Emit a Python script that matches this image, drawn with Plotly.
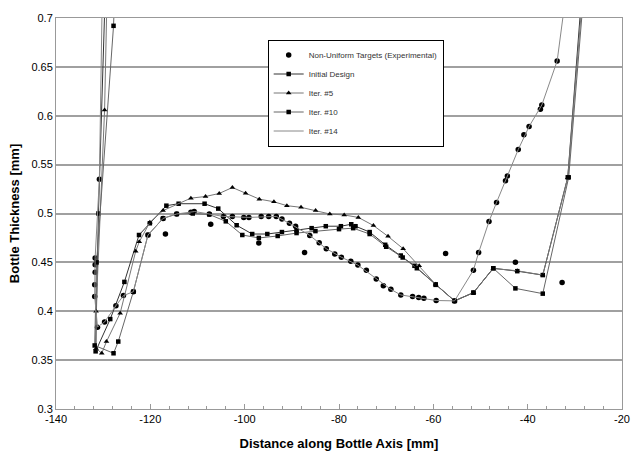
import plotly.graph_objects as go

# ---------------- data ----------------
exp_x = [-130.8, -131.7, -131.7, -131.7, -131.8, -131.8, -131.2, -129.7, -127.3, -125.7,
         -123.6, -120.5, -117.3, -114.4, -111.4, -110.7, -107.5, -104.5, -102.6, -100.2,
         -99.1, -96.5, -94.9, -93.3, -92.1, -90.5, -89.2, -86.2, -84.2, -82.7,
         -80.9, -79.5, -77.5, -76.0, -74.2, -72.1, -70.6, -69.0, -66.9, -64.4,
         -63.1, -62.0, -59.4, -55.5, -51.5, -50.4, -48.2, -46.6, -44.7, -44.3,
         -42.0, -40.8, -39.7, -37.3, -37.0, -33.75,
         -116.8, -107.2, -97.0, -87.3, -57.4, -42.6, -32.7]
exp_y = [0.535, 0.4546, 0.4475, 0.440, 0.4272, 0.415, 0.3836, 0.389, 0.4056, 0.416,
         0.42, 0.478, 0.495, 0.4995, 0.5012, 0.502, 0.4995, 0.497, 0.497, 0.496,
         0.496, 0.497, 0.497, 0.497, 0.4944, 0.49, 0.487, 0.4776, 0.470, 0.464,
         0.4586, 0.4553, 0.4512, 0.4472, 0.442, 0.433, 0.4262, 0.4224, 0.4167, 0.415,
         0.414, 0.4133, 0.411, 0.4106, 0.442, 0.46, 0.4918, 0.5113, 0.5334, 0.5384,
         0.5654, 0.5806, 0.589, 0.6067, 0.611, 0.656,
         0.479, 0.489, 0.4698, 0.46, 0.459, 0.45, 0.4295]

init_x = [-129.6, -131.0, -131.6, -128.5, -125.5, -122.4, -120.1, -116.6, -114.0, -108.5,
          -105.6, -101.7, -98.4, -95.2, -92.1, -89.0, -85.8, -82.8, -79.6, -77.4,
          -76.5, -73.5, -70.2, -66.9, -64.0, -59.5, -55.5, -51.5, -47.3, -42.2,
          -36.8, -31.5, -28.6]
init_y = [0.72, 0.50, 0.359, 0.392, 0.43, 0.478, 0.49, 0.508, 0.510, 0.510,
          0.505, 0.488, 0.479, 0.479, 0.481, 0.483, 0.485, 0.487, 0.487, 0.489,
          0.487, 0.481, 0.468, 0.457, 0.4465, 0.4275, 0.4106, 0.419, 0.444, 0.441,
          0.437, 0.537, 0.72]

it5_x = [-129.2, -129.7, -131.5, -131.5, -130.3, -129.3, -126.4, -123.1, -122.35, -120.1,
         -117.3, -111.4, -108.3, -105.4, -102.6, -99.8, -96.9, -93.8, -91.05, -88.05,
         -84.96, -81.95, -78.9, -75.9, -72.7, -69.6, -66.4, -63.0, -59.5, -55.5,
         -51.5, -47.3, -42.2, -36.8, -31.5, -28.4]
it5_y = [0.72, 0.606, 0.40, 0.362, 0.357, 0.369, 0.398, 0.4614, 0.471, 0.491,
         0.503, 0.5157, 0.5174, 0.5205, 0.5266, 0.5208, 0.5147, 0.512, 0.508, 0.5063,
         0.503, 0.4995, 0.4985, 0.496, 0.4877, 0.4766, 0.464, 0.4465, 0.4275, 0.4106,
         0.419, 0.4437, 0.4414, 0.437, 0.5367, 0.72]

it10_x = [-127.6, -127.8, -131.4, -131.8, -127.8, -126.8, -123.6, -120.5, -117.3, -114.4,
          -111.0, -107.5, -104.0, -100.5, -97.0, -93.0, -89.0, -85.0, -80.0, -77.0,
          -73.5, -70.0, -66.5, -63.5, -59.5, -55.5, -51.5, -47.3, -42.6, -36.8,
          -31.3, -28.2]
it10_y = [0.72, 0.692, 0.45, 0.365, 0.357, 0.369, 0.42, 0.478, 0.495, 0.4995,
          0.500, 0.499, 0.492, 0.478, 0.475, 0.477, 0.480, 0.482, 0.484, 0.485,
          0.479, 0.466, 0.455, 0.444, 0.427, 0.4106, 0.419, 0.444, 0.4234, 0.418,
          0.537, 0.72]

it14_x = [-130.2, -130.8, -131.7, -131.8, -131.2, -129.7, -127.3, -125.7, -123.6, -120.5,
          -117.3, -114.4, -110.6, -104.5, -99.1, -93.3, -90.5, -86.2, -82.7, -79.5,
          -76.0, -72.1, -69.0, -66.9, -64.4, -62.0, -59.4, -55.5, -51.5, -50.4,
          -48.2, -46.6, -44.3, -42.0, -39.7, -37.0, -33.75, -32.0]
it14_y = [0.72, 0.535, 0.455, 0.415, 0.384, 0.389, 0.4056, 0.416, 0.42, 0.478,
          0.495, 0.4995, 0.502, 0.497, 0.496, 0.497, 0.49, 0.4776, 0.464, 0.4553,
          0.4472, 0.433, 0.4224, 0.4167, 0.415, 0.4133, 0.411, 0.4106, 0.442, 0.46,
          0.4918, 0.5113, 0.5384, 0.5654, 0.589, 0.611, 0.656, 0.72]

x_ticks = [-140, -120, -100, -80, -60, -40, -20]
x_tick_text = ["-140", "-120", "-100", "-80", "-60", "-40", "-20"]
y_ticks = [0.3, 0.35, 0.4, 0.45, 0.5, 0.55, 0.6, 0.65, 0.7]
y_tick_text = ["0.3", "0.35", "0.4", "0.45", "0.5", "0.55", "0.6", "0.65", "0.7"]

# ---------------- figure ----------------
fig = go.Figure()

fig.add_trace(go.Scatter(x=exp_x, y=exp_y, mode="markers",
                         name="Non-Uniform Targets (Experimental)",
                         marker=dict(symbol="circle", size=5.5, color="black")))
fig.add_trace(go.Scatter(x=init_x, y=init_y, mode="lines+markers", name="Initial Design",
                         line=dict(color="#333333", width=1),
                         marker=dict(symbol="square", size=4.5, color="black")))
fig.add_trace(go.Scatter(x=it5_x, y=it5_y, mode="lines+markers", name="Iter. #5",
                         line=dict(color="#777777", width=1),
                         marker=dict(symbol="triangle-up", size=5, color="black")))
fig.add_trace(go.Scatter(x=it10_x, y=it10_y, mode="lines+markers", name="Iter. #10",
                         line=dict(color="#666666", width=1),
                         marker=dict(symbol="square", size=4.5, color="black")))
fig.add_trace(go.Scatter(x=it14_x, y=it14_y, mode="lines", name="Iter. #14",
                         line=dict(color="#888888", width=1)))

fig.update_layout(
    width=642, height=463,
    margin=dict(l=56, r=14, t=13, b=54),
    paper_bgcolor="white", plot_bgcolor="white",
    font=dict(family="Liberation Sans, Arial, sans-serif", color="black", size=11),
    showlegend=True,
    legend=dict(x=0.374, y=0.945, xanchor="left", yanchor="top",
                bgcolor="white", bordercolor="black", borderwidth=1,
                font=dict(size=8, color="#333333"), tracegroupgap=0,
                itemwidth=30),
)
fig.update_xaxes(range=[-140, -20], tickvals=x_ticks, ticktext=x_tick_text,
                 showgrid=False, zeroline=False,
                 showline=True, linecolor="#999999", linewidth=1, mirror=True,
                 ticks="inside", ticklen=5, tickcolor="#999999",
                 minor=dict(dtick=4, tick0=-140, ticks="inside", ticklen=3, tickcolor="#999999"),
                 tickfont=dict(size=11),
                 title=dict(text="<b>Distance along Bottle Axis [mm]</b>",
                            font=dict(size=13), standoff=14))
fig.update_yaxes(range=[0.3, 0.7], tickvals=y_ticks, ticktext=y_tick_text,
                 showgrid=True, gridcolor="#a0a0a0", gridwidth=1.5,
                 zeroline=False,
                 showline=True, linecolor="#999999", linewidth=1, mirror=True,
                 ticks="", tickfont=dict(size=11),
                 title=dict(text="<b>Bottle Thickness [mm]</b>",
                            font=dict(size=13), standoff=8))

fig.write_html("out.html")
